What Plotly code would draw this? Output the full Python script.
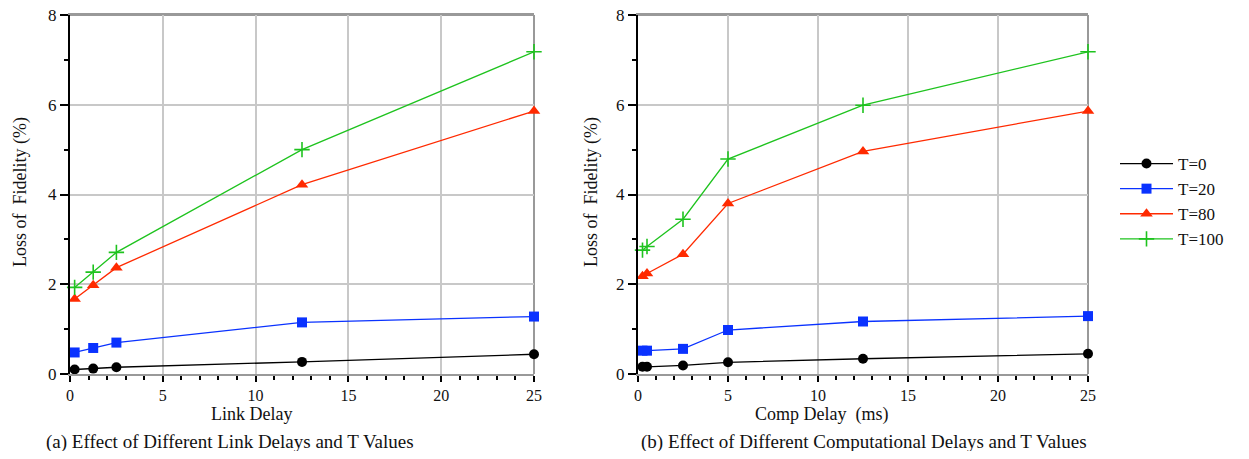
import plotly.graph_objects as go

# ---- data ----
link_delay = [0.25, 1.25, 2.5, 12.5, 25]
link_T0 = [0.10, 0.12, 0.15, 0.27, 0.44]
link_T20 = [0.48, 0.58, 0.70, 1.15, 1.28]
link_T80 = [1.67, 1.98, 2.37, 4.22, 5.86]
link_T100 = [1.93, 2.27, 2.71, 5.00, 7.18]

comp_delay = [0.25, 0.5, 2.5, 5, 12.5, 25]
comp_T0 = [0.16, 0.16, 0.19, 0.26, 0.34, 0.45]
comp_T20 = [0.52, 0.52, 0.56, 0.98, 1.17, 1.29]
comp_T80 = [2.18, 2.24, 2.67, 3.80, 4.96, 5.86]
comp_T100 = [2.76, 2.84, 3.45, 4.79, 5.99, 7.18]

series_names = ["T=0", "T=20", "T=80", "T=100"]
colors = ["#000000", "#0a32ff", "#ff2a00", "#1ec31e"]
symbols = ["circle", "square", "triangle-up", "cross-thin"]
sizes = [10, 10, 11, 11]

FONT = "Liberation Serif"

fig = go.Figure()

left_sets = [link_T0, link_T20, link_T80, link_T100]
right_sets = [comp_T0, comp_T20, comp_T80, comp_T100]

for i, name in enumerate(series_names):
    mk = dict(symbol=symbols[i], size=sizes[i], color=colors[i],
              line=dict(color=colors[i], width=1.6 if symbols[i] == "cross-thin" else 0))
    fig.add_trace(go.Scatter(x=link_delay, y=left_sets[i], mode="lines+markers", name=name,
                             line=dict(color=colors[i], width=1.3), marker=mk,
                             xaxis="x", yaxis="y", showlegend=True, cliponaxis=False))
for i, name in enumerate(series_names):
    mk = dict(symbol=symbols[i], size=sizes[i], color=colors[i],
              line=dict(color=colors[i], width=1.6 if symbols[i] == "cross-thin" else 0))
    fig.add_trace(go.Scatter(x=comp_delay, y=right_sets[i], mode="lines+markers", name=name,
                             line=dict(color=colors[i], width=1.3), marker=mk,
                             xaxis="x2", yaxis="y2", showlegend=False, cliponaxis=False))

# page has an 8px body margin: work in figure pixels = reference pixels - 8
OFF = 8
W, H = 1249 - 2 * OFF, 459 - 2 * OFF

def px(x):
    return (x - OFF) / W

def py(y):
    return 1 - (y - OFF) / H

yd = [py(374), py(15)]
xd1 = [px(70), px(534)]
xd2 = [px(638), px(1088)]

def xax(domain, anchor):
    return dict(domain=domain, anchor=anchor, range=[0, 25], tickvals=[0, 5, 10, 15, 20, 25],
                automargin=False, ticklabeloverflow="allow",
                showgrid=True, gridcolor="#c8c8c8", gridwidth=1.5,
                showline=True, linecolor="#999999", linewidth=2, mirror=True,
                ticks="outside", ticklen=6, tickwidth=1.5, tickcolor="#000000",
                minor=dict(dtick=1, ticks="outside", ticklen=4, tickwidth=1.5, tickcolor="#000000", showgrid=False),
                tickfont=dict(family=FONT, size=16, color="#111111"), zeroline=False)

def yax(domain, anchor):
    return dict(domain=domain, anchor=anchor, range=[0, 8], tickvals=[0, 2, 4, 6, 8],
                automargin=False, ticklabeloverflow="allow",
                showgrid=True, gridcolor="#c8c8c8", gridwidth=1.5,
                showline=True, linecolor="#000000", linewidth=2,
                ticks="outside", ticklen=8, tickwidth=1.5, tickcolor="#000000",
                minor=dict(dtick=1, ticks="outside", ticklen=4, tickwidth=1.5, tickcolor="#000000", showgrid=False),
                tickfont=dict(family=FONT, size=17, color="#111111"), zeroline=False)

fig.update_layout(
    template="none",
    width=W, height=H, margin=dict(l=0, r=0, t=0, b=0, pad=0),
    paper_bgcolor="white", plot_bgcolor="white",
    font=dict(family=FONT, color="#111111"),
    xaxis=xax(xd1, "y"), yaxis=yax(yd, "x"),
    xaxis2=xax(xd2, "y2"), yaxis2=yax(yd, "x2"),
    legend=dict(x=px(1115), y=py(146), xanchor="left", yanchor="top",
                font=dict(family=FONT, size=17, color="#111111"),
                itemwidth=53, tracegroupgap=0, bgcolor="rgba(0,0,0,0)"),
)

# top and right border lines (gray)
for xr, yr in [("x domain", "y domain"), ("x2 domain", "y2 domain")]:
    fig.add_shape(type="line", xref=xr, yref=yr, x0=1, x1=1, y0=0, y1=1,
                  line=dict(color="#999999", width=2), layer="below")
    fig.add_shape(type="line", xref=xr, yref=yr, x0=0, x1=1, y0=1, y1=1,
                  line=dict(color="#999999", width=2), layer="below")

ann = [
    dict(text="Loss of&nbsp; Fidelity (%)", x=20, y=192, textangle=-90, size=18),
    dict(text="Loss of&nbsp; Fidelity (%)", x=591, y=192, textangle=-90, size=18),
    dict(text="Link Delay", x=251, y=414, textangle=0, size=18),
    dict(text="Comp Delay&nbsp; (ms)", x=821, y=414, textangle=0, size=18),
    dict(text="(a) Effect of Different Link Delays and T Values", x=230, y=442, textangle=0, size=19),
    dict(text="(b) Effect of Different Computational Delays and T Values", x=864, y=442, textangle=0, size=19),
]
for a in ann:
    fig.add_annotation(text=a["text"], x=px(a["x"]), y=py(a["y"]), xref="paper", yref="paper",
                       xanchor="center", yanchor="middle", showarrow=False, textangle=a["textangle"],
                       font=dict(family=FONT, size=a["size"], color="#111111"))

fig.write_html("out.html")
